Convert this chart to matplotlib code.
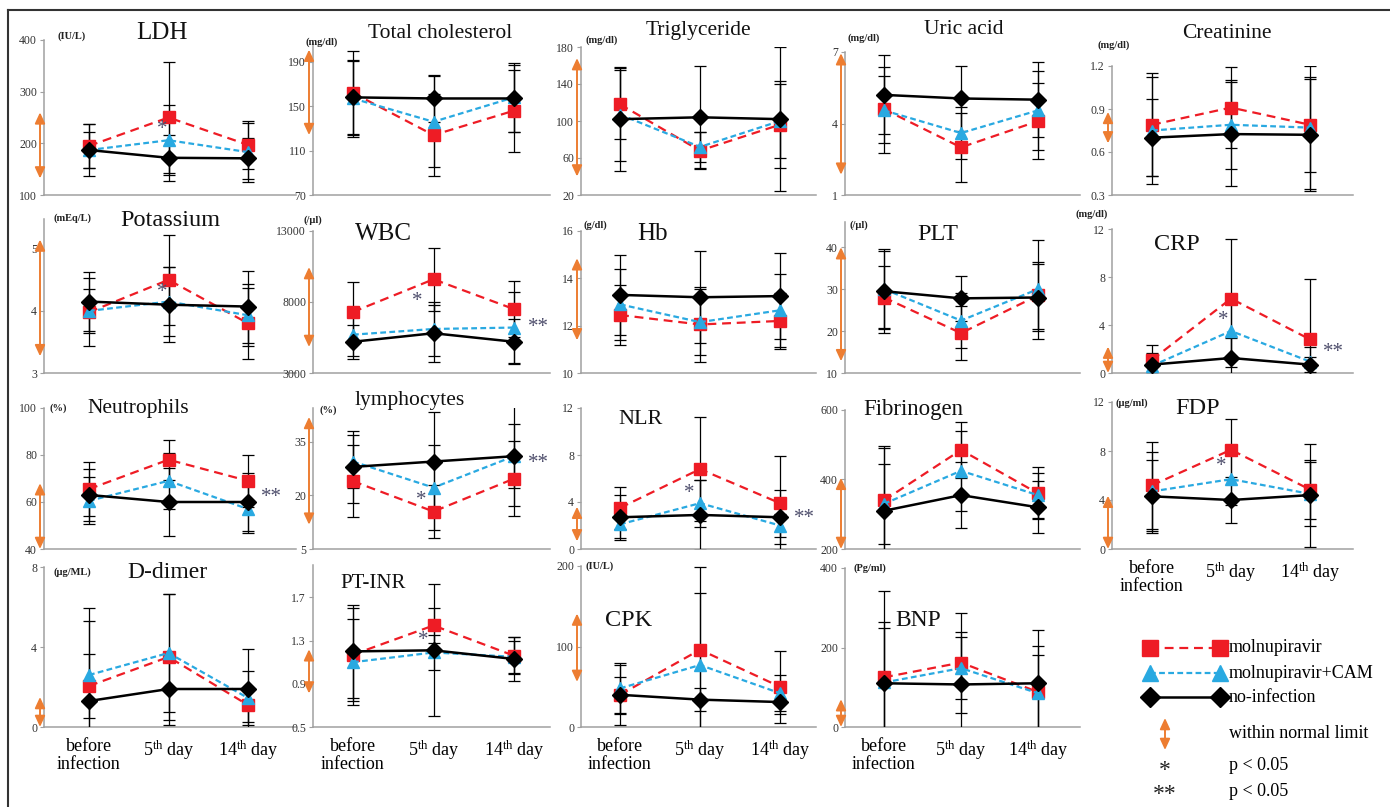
#blood test time course - 19 small panels

import matplotlib
matplotlib.use("Agg")
import matplotlib.pyplot as plt

plt.rcParams['font.family'] = ['Liberation Serif', 'DejaVu Serif']
plt.rcParams['mathtext.fontset'] = 'custom'
plt.rcParams['mathtext.rm'] = 'Liberation Serif'
plt.rcParams['mathtext.it'] = 'Liberation Serif:italic'

days = ["before\ninfection", "5$^{\\mathrm{th}}$ day", "14$^{\\mathrm{th}}$ day"]
groups = ["molnupiravir", "molnupiravir+CAM", "no-infection"]

# mean / sd : [molnupiravir, molnupiravir+CAM, no-infection] x [before, 5th, 14th]
ldh_mean = [[195, 250, 197], [187, 206, 183], [187, 172, 171]]
ldh_sd = [[43, 108, 47], [50, 68, 57], [34, 45, 40]]
ldh_normal = [132, 260]

tc_mean = [[162, 124, 146], [157, 136, 158], [158, 157, 157]]
tc_sd = [[38, 37, 37], [35, 41, 31], [33, 21, 30]]
tc_normal = [124, 201]

tg_mean = [[118, 68, 96], [107, 72, 100], [102, 104, 102]]
tg_sd = [[37, 20, 47], [50, 16, 40], [56, 55, 78]]
tg_normal = [40, 168]

ua_mean = [[4.6, 3.0, 4.1], [4.55, 3.6, 4.55], [5.2, 5.05, 5.0]]
ua_sd = [[1.4, 1.45, 1.6], [1.8, 1.1, 1.65], [1.66, 1.36, 1.58]]
ua_normal = [1.85, 6.95]

cre_mean = [[0.79, 0.91, 0.79], [0.75, 0.79, 0.77], [0.70, 0.725, 0.72]]
cre_sd = [[0.36, 0.28, 0.33], [0.37, 0.31, 0.43], [0.27, 0.36, 0.39]]
cre_normal = [0.66, 0.88]

k_mean = [[3.98, 4.5, 3.8], [4.0, 4.15, 3.93], [4.15, 4.1, 4.07]]
k_sd = [[0.55, 0.73, 0.57], [0.35, 0.55, 0.5], [0.47, 0.6, 0.58]]
k_normal = [3.27, 5.15]

wbc_mean = [[7300, 9600, 7500], [5700, 6100, 6200], [5200, 5800, 5200]]
wbc_sd = [[2100, 2200, 2000], [1500, 1900, 2500], [1200, 2000, 1600]]
wbc_normal = [4830, 10460]

hb_mean = [[12.45, 12.05, 12.2], [12.9, 12.15, 12.65], [13.3, 13.2, 13.25]]
hb_sd = [[1.25, 1.6, 1.2], [1.5, 1.4, 1.55], [1.7, 1.95, 1.8]]
hb_normal = [11.38, 14.85]

plat_mean = [[28, 19.5, 28.5], [30, 22.5, 30], [29.5, 27.8, 28]]
plat_sd = [[7.5, 6.5, 8], [9.2, 6.5, 11.8], [10, 5.3, 8]]
plat_normal = [12.8, 40]

crp_mean = [[1.1, 6.2, 2.8], [0.6, 3.5, 0.95], [0.7, 1.25, 0.7]]
crp_sd = [[1.2, 5.0, 5.05], [1.1, 3.0, 1.25], [0.9, 1.7, 0.6]]
crp_normal = [0, 2.2]

neu_mean = [[65.5, 78, 69], [60.5, 69, 57], [63, 60, 60]]
neu_sd = [[11.5, 8.5, 11], [10, 12, 10], [11, 14.5, 12.5]]
neu_normal = [40, 68]

lym_mean = [[24, 15.5, 24.7], [29.5, 22.2, 31], [28, 29.5, 31]]
lym_sd = [[10, 7.5, 10.5], [7.5, 11.8, 9], [10, 14, 14]]
lym_normal = [11.8, 42]

nlr_mean = [[3.5, 6.8, 3.9], [2.1, 3.9, 2.0], [2.7, 2.9, 2.7]]
nlr_sd = [[1.8, 4.4, 4.0], [1.2, 2.0, 1.0], [1.9, 3.0, 2.3]]
nlr_normal = [0.65, 3.6]

fib_mean = [[340, 485, 360], [330, 425, 355], [310, 355, 320]]
fib_sd = [[150, 80, 75], [115, 115, 65], [185, 95, 75]]
fib_normal = [200, 405]

fdp_mean = [[5.2, 8.1, 4.85], [4.7, 5.7, 4.5], [4.3, 4.0, 4.4]]
fdp_sd = [[3.55, 2.5, 2.4], [3.2, 2.1, 2.6], [3.0, 1.9, 4.2]]
fdp_normal = [0, 4.35]

dd_mean = [[2.05, 3.5, 1.1], [2.6, 3.7, 1.45], [1.3, 1.9, 1.9]]
dd_sd = [[1.6, 3.15, 0.85], [3.35, 2.95, 1.35], [4.0, 1.8, 2.0]]
dd_normal = [0, 1.5]

inr_mean = [[1.17, 1.44, 1.16], [1.1, 1.19, 1.15], [1.2, 1.21, 1.13]]
inr_sd = [[0.43, 0.16, 0.17], [0.4, 0.16, 0.15], [0.43, 0.61, 0.2]]
inr_normal = [0.81, 1.22]

cpk_mean = [[40, 96, 50], [48, 77, 42], [40, 34, 31]]
cpk_sd = [[37, 103, 45], [32, 89, 22], [22, 14, 15]]
cpk_normal = [56, 141]

bnp_mean = [[125, 162, 88], [112, 148, 85], [110, 107, 110]]
bnp_sd = [[140, 126, 117], [138, 78, 95], [232, 133, 133]]
bnp_normal = [0, 70]

# significance marks (x position, y value, text)
ldh_marks = [(0.92, 226, '*')]
k_marks = [(0.92, 4.3, '*')]
wbc_marks = [(0.8, 8000, '*'), (2.3, 6200, '**')]
crp_marks = [(0.9, 4.4, '*'), (2.3, 1.7, '**')]
neu_marks = [(2.3, 62, '**')]
lym_marks = [(0.85, 18.5, '*'), (2.3, 29, '**')]
nlr_marks = [(0.87, 4.7, '*'), (2.3, 2.6, '**')]
fdp_marks = [(0.88, 6.7, '*')]
inr_marks = [(0.87, 1.3, '*')]

RED = '#EE1C25'
BLUE = '#29A9E1'
BLACK = '#000000'
ORANGE = '#ED7D31'
GRAY = '#A0A0A0'
STAR = '#4D4D6B'
ARROW = '<|-|>,head_length=0.65,head_width=0.3'

W, H = 1390, 807
COL_AXIS = [44, 313, 581, 845, 1112]
COL_RIGHT = [296, 550, 816, 1080, 1353]
COL_FIRST = [89, 353, 620, 884, 1152]
COL_LAST = [248, 514, 780, 1038, 1310]
ROW_BOTTOM = [195, 373, 549, 727]

# title, unit, mean, sd, normal, ticks, ylim, row, col, top px, title xy, title size, unit xy, xlabels, marks
panels = [
    ("LDH", "(IU/L)", ldh_mean, ldh_sd, ldh_normal, [100, 200, 300, 400], (100, 400), 0, 0, 40, (162, 33), 18, (57, 36), False, ldh_marks),
    ("Total cholesterol", "(mg/dl)", tc_mean, tc_sd, tc_normal, [70, 110, 150, 190], (70, 207), 0, 1, 43, (440, 33), 15.5, (305, 42), False, []),
    ("Triglyceride", "(mg/dl)", tg_mean, tg_sd, tg_normal, [20, 60, 100, 140, 180], (20, 180), 0, 2, 47, (698, 30), 15.5, (585, 40), False, []),
    ("Uric acid", "(mg/dl)", ua_mean, ua_sd, ua_normal, [1, 4, 7], (1, 7), 0, 3, 52, (964, 30), 15.5, (848, 38), False, []),
    ("Creatinine", "(mg/dl)", cre_mean, cre_sd, cre_normal, [0.3, 0.6, 0.9, 1.2], (0.3, 1.2), 0, 4, 66, (1227, 33), 15.5, (1097, 45), False, []),
    ("Potassium", "(mEq/L)", k_mean, k_sd, k_normal, [3, 4, 5], (3, 5.48), 1, 0, 219, (170, 220), 17.5, (53, 218), False, k_marks),
    ("WBC", "(/\u03bcl)", wbc_mean, wbc_sd, wbc_normal, [3000, 8000, 13000], (3000, 13000), 1, 1, 231, (383, 234), 18, (303, 220), False, wbc_marks),
    ("Hb", "(g/dl)", hb_mean, hb_sd, hb_normal, [10, 12, 14, 16], (10, 16), 1, 2, 231, (653, 234), 18, (584, 225), False, []),
    ("PLT", "(/\u03bcl)", plat_mean, plat_sd, plat_normal, [10, 20, 30, 40], (10, 46), 1, 3, 222, (938, 234), 17.5, (850, 225), False, []),
    ("CRP", "(mg/dl)", crp_mean, crp_sd, crp_normal, [0, 4, 8, 12], (0, 12), 1, 4, 229, (1177, 244), 17.5, (1075, 214), False, crp_marks),
    ("Neutrophils", "(%)", neu_mean, neu_sd, neu_normal, [40, 60, 80, 100], (40, 100), 2, 0, 408, (138, 408), 15.5, (50, 408), False, neu_marks),
    ("lymphocytes", "(%)", lym_mean, lym_sd, lym_normal, [5, 20, 35], (5, 44.5), 2, 1, 408, (410, 400), 15.5, (320, 410), False, lym_marks),
    ("NLR", "", nlr_mean, nlr_sd, nlr_normal, [0, 4, 8, 12], (0, 12), 2, 2, 408, (641, 420), 16, (0, 0), False, nlr_marks),
    ("Fibrinogen", "", fib_mean, fib_sd, fib_normal, [200, 400, 600], (200, 600), 2, 3, 410, (913, 409), 16.5, (0, 0), False, []),
    ("FDP", "(\u03bcg/ml)", fdp_mean, fdp_sd, fdp_normal, [0, 4, 8, 12], (0, 12), 2, 4, 402, (1198, 408), 17.5, (1115, 403), True, fdp_marks),
    ("D-dimer", "(\u03bcg/ML)", dd_mean, dd_sd, dd_normal, [0, 4, 8], (0, 8), 3, 0, 567, (167, 572), 17, (54, 572), True, []),
    ("PT-INR", "", inr_mean, inr_sd, inr_normal, [0.5, 0.9, 1.3, 1.7], (0.5, 2.0), 3, 1, 565, (373, 584), 15, (0, 0), True, inr_marks),
    ("CPK", "(IU/L)", cpk_mean, cpk_sd, cpk_normal, [0, 100, 200], (0, 200), 3, 2, 566, (629, 621), 17.5, (586, 566), True, []),
    ("BNP", "(Pg/ml)", bnp_mean, bnp_sd, bnp_normal, [0, 200, 400], (0, 400), 3, 3, 568, (918, 621), 17, (853, 568), True, []),
]

styles = [
    dict(color=RED, ls=(0, (4, 2.6)), lw=1.6, marker='s', ms=8.5),
    dict(color=BLUE, ls=(0, (2.6, 1.5)), lw=1.6, marker='^', ms=9),
    dict(color=BLACK, ls='-', lw=1.8, marker='D', ms=8),
]


def draw_panel(fig, p):
    (title, unit, mean, sd, normal, ticks, ylim, row, col, top,
     title_xy, title_size, unit_xy, xlabels, marks) = p
    left, right, bottom = COL_AXIS[col], COL_RIGHT[col], ROW_BOTTOM[row]
    ax = fig.add_axes([left / W, 1 - bottom / H, (right - left) / W, (bottom - top) / H])
    step = (COL_LAST[col] - COL_FIRST[col]) / 2
    ax.set_xlim((left - COL_FIRST[col]) / step, (right - COL_FIRST[col]) / step)
    ax.set_ylim(*ylim)
    ax.patch.set_alpha(0)

    x = [0, 1, 2]
    for m, s in zip(mean, sd):
        ax.errorbar(x, m, yerr=s, fmt='none', ecolor='black', elinewidth=0.9,
                    capsize=4.5, capthick=0.9, zorder=3)
    for m, st, g in zip(mean, styles, groups):
        ax.plot(x, m, color=st['color'], ls=st['ls'], lw=st['lw'],
                marker=st['marker'], ms=st['ms'], zorder=4, label=g)

    # within normal limit arrow
    ax.annotate('', xy=(-4 / (right - left), normal[0]), xytext=(-4 / (right - left), normal[1]),
                xycoords=('axes fraction', 'data'), textcoords=('axes fraction', 'data'),
                arrowprops=dict(arrowstyle=ARROW, color=ORANGE, lw=1.4, shrinkA=0, shrinkB=0),
                annotation_clip=False, zorder=5)

    for mx, my, mt in marks:
        ax.text(mx, my, mt, ha='center', va='center', fontsize=15, color=STAR, zorder=6)

    for s in ['top', 'right']:
        ax.spines[s].set_visible(False)
    for s in ['left', 'bottom']:
        ax.spines[s].set_color(GRAY)
        ax.spines[s].set_linewidth(1.1)
    ax.set_yticks(ticks)
    ax.set_yticklabels([f"{t:g}" for t in ticks])
    ax.tick_params(axis='y', length=3, width=0.8, color=GRAY, labelsize=8.5,
                   labelcolor='#333333', pad=2)
    if xlabels:
        ax.set_xticks(x)
        ax.set_xticklabels(days, fontsize=13, linespacing=1.05)
        ax.tick_params(axis='x', length=0, pad=8)
    else:
        ax.set_xticks([])
    return ax


def main():
    fig = plt.figure(figsize=(W / 100, H / 100), dpi=100)

    for p in panels:
        draw_panel(fig, p)

    # overlay in pixel coordinates: titles, units, legend, frame
    ov = fig.add_axes([0, 0, 1, 1])
    ov.set_xlim(0, W)
    ov.set_ylim(H, 0)
    ov.axis('off')

    for p in panels:
        title, unit, title_xy, title_size, unit_xy = p[0], p[1], p[10], p[11], p[12]
        ov.text(title_xy[0], title_xy[1], title, ha='center', va='center',
                fontsize=title_size, color='#111111')
        if unit:
            ov.text(unit_xy[0], unit_xy[1], unit, ha='left', va='center',
                    fontsize=7.5, color='#222222', fontweight='bold')

    ov.plot([8, W], [10, 10], color='#333333', lw=1.5)
    ov.plot([8, 8], [10, H], color='#333333', lw=1.5)

    leg_y = [648, 673, 697]
    for yy, st, g in zip(leg_y, styles, groups):
        ov.plot([1150, 1220], [yy, yy], color=st['color'], ls=st['ls'], lw=st['lw'],
                marker=st['marker'], ms=st['ms'] + 2.5)
        ov.text(1229, yy, g, ha='left', va='center', fontsize=13)
    ov.annotate('', xy=(1165, 750), xytext=(1165, 718),
                arrowprops=dict(arrowstyle=ARROW, color=ORANGE, lw=1.4, shrinkA=0, shrinkB=0))
    ov.text(1229, 734, "within normal limit", ha='left', va='center', fontsize=13)
    ov.text(1165, 770, "*", ha='center', va='center', fontsize=17, color='#222222')
    ov.text(1229, 765, "p < 0.05", ha='left', va='center', fontsize=13)
    ov.text(1165, 794, "**", ha='center', va='center', fontsize=17, color='#222222')
    ov.text(1229, 791, "p < 0.05", ha='left', va='center', fontsize=13)

    fig.savefig("out.png", dpi=100)


if __name__ == "__main__":
    main()
